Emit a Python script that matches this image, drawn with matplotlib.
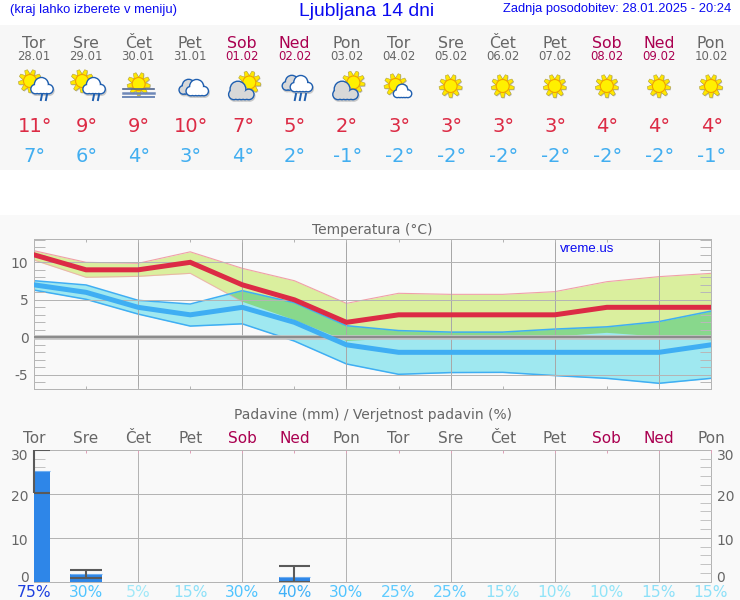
import numpy as np
import matplotlib
matplotlib.use('Agg')
import matplotlib.pyplot as plt
from matplotlib.patches import Circle, Polygon, Rectangle
from matplotlib.ticker import MultipleLocator
from matplotlib.transforms import ScaledTranslation

day_names = ['Tor', 'Sre', 'Čet', 'Pet', 'Sob', 'Ned', 'Pon', 'Tor', 'Sre', 'Čet', 'Pet', 'Sob', 'Ned', 'Pon']
dates = ['28.01', '29.01', '30.01', '31.01', '01.02', '02.02', '03.02', '04.02', '05.02', '06.02', '07.02', '08.02', '09.02', '10.02']
tmax = [11, 9, 9, 10, 7, 5, 2, 3, 3, 3, 3, 4, 4, 4]
tmin = [7, 6, 4, 3, 4, 2, -1, -2, -2, -2, -2, -2, -2, -1]
tmax_hi = [11.55, 10.0, 9.87, 11.4, 9.2, 7.55, 4.53, 5.87, 5.73, 5.73, 6.09, 7.42, 8.09, 8.53]
tmax_lo = [10.3, 8.0, 8.13, 8.53, 4.75, 2.3, -0.5, -0.1, 0.2, 0.2, 0.1, 0.6, 0.1, -0.4]
tmin_hi = [7.55, 6.98, 4.93, 4.44, 6.22, 4.62, 1.55, 0.9, 0.7, 0.7, 1.1, 1.4, 2.1, 3.5]
tmin_lo = [6.3, 5.07, 3.1, 1.5, 1.8, -0.5, -3.55, -4.93, -4.7, -4.67, -5.1, -5.47, -6.13, -5.47]
precip = [25.2, 1.67, 0, 0, 0, 1.1, 0, 0, 0, 0, 0, 0, 0, 0]
precip_lo = [20.2, 0.76, 0, 0, 0, 0, 0, 0, 0, 0, 0, 0, 0, 0]
precip_hi = [29.9, 2.65, 0, 0, 0, 3.64, 0, 0, 0, 0, 0, 0, 0, 0]
prob = [75, 30, 5, 15, 30, 40, 30, 25, 25, 15, 10, 10, 15, 15]
icons = ['sun_rain', 'sun_rain', 'fog', 'clouds', 'sun_cloud', 'clouds_rain', 'sun_cloud',
         'sun_small', 'sun', 'sun', 'sun', 'sun', 'sun', 'sun']

GREY = '#666666'
WEEKEND = '#AA0050'
RED = '#DC2B45'
BLUE = '#3FAEF3'
HEAD = '#0A0AF0'
GRID = '#B4B4B4'
PROB_COL = {75: '#1C3FDF', 40: '#3FB0F8', 30: '#50C4FF', 25: '#60CCFF', 15: '#8CE0F8', 10: '#90E4F8', 5: '#A0E8F8'}
day_cols = [WEEKEND if n in ('Sob', 'Ned') else GREY for n in day_names]
days = np.arange(14)

W, H = 740, 600
fig = plt.figure(figsize=(W / 100, H / 100), dpi=100, facecolor='white')
plt.rcParams['font.family'] = 'DejaVu Sans'

ov = fig.add_axes([0, 0, 1, 1], zorder=0)
ov.set_xlim(0, W)
ov.set_ylim(H, 0)
ov.axis('off')
ov.add_patch(Rectangle((0, 25), W, 145, fc='#F7F7F7', ec='none'))
ov.add_patch(Rectangle((0, 215), W, 385, fc='#F9F9F9', ec='none'))

ov.text(10, 12.5, '(kraj lahko izberete v meniju)', family='Liberation Sans', fontsize=9.4, color=HEAD, ha='left', va='baseline')
ov.text(367, 15.5, 'Ljubljana 14 dni', family='Liberation Sans', fontsize=13.9, color=HEAD, ha='center', va='baseline')
ov.text(731, 12, 'Zadnja posodobitev: 28.01.2025 - 20:24', family='Liberation Sans', fontsize=9.3, color=HEAD, ha='right', va='baseline')

x_px = 34 + days * 677 / 13
for i in days:
    ov.text(x_px[i], 47.5, day_names[i], fontsize=11.3, color=day_cols[i], ha='center', va='baseline')
    ov.text(x_px[i], 60.5, dates[i], fontsize=8.4, color=day_cols[i], ha='center', va='baseline')
    ov.text(x_px[i] + 0.7, 132.5, f'{tmax[i]}°', fontsize=14, color=RED, ha='center', va='baseline')
    ov.text(x_px[i] + 0.7, 162, f'{tmin[i]}°', fontsize=14, color='#42AEF0', ha='center', va='baseline')

z = [5]
def nz():
    z[0] += 1
    return z[0]

def sun(cx, cy, r=6.5, ray=11.5):
    zz = nz()
    for a in np.arange(0, 360, 40) + 10:
        t = np.radians(a)
        d = np.array([np.cos(t), np.sin(t)])
        n = np.array([-d[1], d[0]])
        c = np.array([cx, cy])
        pts = [c + d * (r - 1) + n * 2.6, c + d * ray + n * 1.4, c + d * ray - n * 1.4, c + d * (r - 1) - n * 2.6]
        ov.add_patch(Polygon([p + np.array([0.7, 0.9]) for p in pts], fc='#BDBDBD', ec='none', zorder=zz))
        ov.add_patch(Polygon(pts, fc='#FFE800', ec='#B0A040', lw=0.4, zorder=zz + 0.1))
    ov.add_patch(Circle((cx, cy), r, fc='#FFF000', ec='#F2A000', lw=0.8, zorder=nz()))

def cloud(cx, cy, w, fill='white', edge='#1F5FB0', lw=2.0, shadow=True, top_dx=-0.03):
    parts = [(-0.31, 0.10, 0.19), (0.31, 0.10, 0.19), (top_dx, -0.12, 0.30), (0.0, 0.14, 0.15), (-0.15, 0.14, 0.15), (0.15, 0.14, 0.15)]
    if shadow:
        zz = nz()
        for px, py, pr in parts:
            ov.add_patch(Circle((cx + px * w + 0.8, cy + py * w + 1.5), pr * w, fc='#C8C8C8', ec='#C8C8C8', lw=lw, zorder=zz))
    zz = nz()
    for px, py, pr in parts:
        ov.add_patch(Circle((cx + px * w, cy + py * w), pr * w, fc=edge, ec=edge, lw=lw, zorder=zz))
    zz = nz()
    for px, py, pr in parts:
        ov.add_patch(Circle((cx + px * w, cy + py * w), pr * w, fc=fill, ec='none', zorder=zz))

def rain(xs, y0=93, y1=101):
    zz = nz()
    for x in xs:
        ov.plot([x + 0.8, x - 0.8], [y0, y1], color='#1F5FB0', lw=1.4, zorder=zz, solid_capstyle='butt')

for i, kind in enumerate(icons):
    cx = x_px[i]
    if kind == 'sun_rain':
        sun(cx - 4, 81)
        cloud(cx + 8, 87, 21)
        rain([cx + 7.5, cx + 12.5])
    elif kind == 'fog':
        sun(cx + 0.5, 84)
        for yy, lw, col in [(88.5, 1.2, '#50648C'), (92.5, 1.8, '#6E88B8'), (97, 1.4, '#6E88B8')]:
            ov.plot([cx - 15, cx + 16], [yy, yy], color=col, lw=lw, zorder=nz())
    elif kind == 'clouds':
        cloud(cx - 1, 88, 19, fill='#D8D8D8')
        cloud(cx + 7, 89, 21)
    elif kind == 'sun_cloud':
        sun(cx + 7, 82.5)
        cloud(cx - 1, 92, 24, fill='#D8D8D8', top_dx=-0.14)
    elif kind == 'clouds_rain':
        cloud(cx - 2, 84, 19, fill='#D8D8D8')
        cloud(cx + 7, 85, 21)
        rain([cx + 1, cx + 6, cx + 11])
    elif kind == 'sun_small':
        sun(cx - 3, 85)
        cloud(cx + 4, 92, 17, shadow=False)
    else:
        sun(cx, 86)

def px_axes(left, top, right, bottom):
    a = fig.add_axes([left / W, 1 - bottom / H, (right - left) / W, (bottom - top) / H], zorder=1)
    a.set_facecolor('#F9F9F9')
    return a

# --- temperature panel ---
ax = px_axes(34, 239.3, 711, 389)
ax.set_xlim(0, 13)
ax.set_ylim(-6.89, 13.07)
band_max = ax.fill_between(days, tmax_lo, tmax_hi, color='#DAEF9E', lw=0, zorder=1)
band_min = ax.fill_between(days, tmin_lo, tmin_hi, color='#9FE8F0', lw=0, zorder=1.1)
overlap = ax.fill_between(days, tmin_lo, tmin_hi, color='#88D88C', lw=0, zorder=1.2)
overlap.set_clip_path(band_max.get_paths()[0], ax.transData)
ax.plot(days, tmax_hi, color='#F0A0A8', lw=0.8, zorder=1.5)
ax.plot(days[:5], tmax_lo[:5], color='#F0A0A8', lw=0.8, zorder=1.25, alpha=0.7)
ax.plot(days, tmin_hi, color=BLUE, lw=1.1, zorder=1.5)
ax.plot(days, tmin_lo, color=BLUE, lw=1.1, zorder=1.5)
ax.axhline(0, color='#C4C4C4', lw=3.4, zorder=2.6)
ax.axhline(0, color='#8C8C8C', lw=1.5, zorder=2.7)
ax.plot(days, tmin, color=BLUE, lw=3.6, zorder=3, solid_joinstyle='miter')
ax.plot(days, tmax, color=RED, lw=3.6, zorder=3.1, solid_joinstyle='miter')
ax.set_axisbelow(False)
ax.set_yticks([-5, 0, 5, 10])
ax.set_yticklabels(['-5', '0', '5', '10'], fontsize=10, color=GREY)
for lab in ax.get_yticklabels():
    lab.set_va('center_baseline')
ax.yaxis.set_minor_locator(MultipleLocator(1))
ax.tick_params(axis='y', which='major', length=0, pad=4)
ax.tick_params(axis='y', which='minor', direction='in', length=8, width=0.72, color='#B8B8B8', left=True, right=True)
ax.set_xticks(days)
ax.set_xticklabels([])
ax.tick_params(axis='x', direction='in', length=2.5, width=0.72, color=GRID, top=True, bottom=True)
ax.grid(axis='y', which='major', color=GRID, lw=0.72)
for d in days[2::2]:
    ax.axvline(d, color='#A8A8A8', lw=0.72, zorder=2.5)
for s in ax.spines.values():
    s.set_color(GRID)
    s.set_linewidth(0.72)
ax.set_title('Temperatura (°C)', fontsize=10, color=GREY, pad=4)
ax.text(0.777, 0.938, 'vreme.us', transform=ax.transAxes, family='Liberation Sans', fontsize=9.5, color=HEAD, ha='left', va='center', zorder=5)

# --- precipitation panel ---
bx = px_axes(34, 449.7, 711, 581.7)
bx.set_xlim(0, 13)
bx.set_ylim(0, 30)
p = np.array(precip)
lo = np.array(precip_lo)
hi = np.array(precip_hi)
bx.bar(days, p, width=0.61, color='#2E86E8', zorder=3)
mask = hi > 0
bx.hlines(p[p > 0], days[p > 0] - 0.305, days[p > 0] + 0.305, color='#6FAEF0', lw=0.8, zorder=3.2)
bx.vlines(days[mask], lo[mask], hi[mask], color='#5A5A5A', lw=1.5, zorder=4, clip_on=False)
bx.hlines(hi[mask], days[mask] - 0.305, days[mask] + 0.305, color='#5A5A5A', lw=1.5, zorder=4)
bx.hlines(lo[mask], days[mask] - 0.305, days[mask] + 0.305, color='#5A5A5A', lw=1.5, zorder=4)
bx.set_axisbelow(False)
bx.set_yticks([0, 10, 20, 30])
bx.set_yticklabels(['0', '10', '20', '30'], fontsize=10, color=GREY)
bx.yaxis.set_minor_locator(MultipleLocator(2))
bx.tick_params(axis='y', which='major', length=0, pad=4, labelleft=True, labelright=True)
bx.tick_params(axis='y', which='minor', direction='in', length=8, width=0.72, color='#C4C4C4', left=True, right=True)
label_shift_px = {'0': 4.7, '10': -1.7, '20': -1.8, '30': -5.3}
for tick in bx.yaxis.get_major_ticks():
    dy = label_shift_px[tick.label1.get_text()]
    for lab in (tick.label1, tick.label2):
        lab.set_va('center_baseline')
        lab.set_transform(lab.get_transform() + ScaledTranslation(0, dy / 100, fig.dpi_scale_trans))
bx.set_xticks(days)
bx.set_xticklabels([f'{v}%' for v in prob], fontsize=11.2)
for lab, v in zip(bx.get_xticklabels(), prob):
    lab.set_color(PROB_COL[v])
bx.tick_params(axis='x', direction='in', length=2.5, width=0.72, color='#E0A0B8', top=True, bottom=False, pad=2.3)
for d in days[2::2]:
    bx.axvline(d, color=GRID, lw=0.72, zorder=2.5)
bx.grid(axis='y', which='major', color=GRID, lw=0.72)
for name, s in bx.spines.items():
    s.set_color('#E0A0B8' if name == 'top' else GRID)
    s.set_linewidth(0.72)
top = bx.secondary_xaxis('top')
top.set_xticks(days)
top.set_xticklabels(day_names, fontsize=11)
for lab, c in zip(top.get_xticklabels(), day_cols):
    lab.set_color(c)
top.tick_params(length=0, pad=3)
top.spines['top'].set_visible(False)
bx.set_title('Padavine (mm) / Verjetnost padavin (%)', fontsize=10, color=GREY, pad=22)

fig.savefig('out.png', dpi=100, facecolor='white')
